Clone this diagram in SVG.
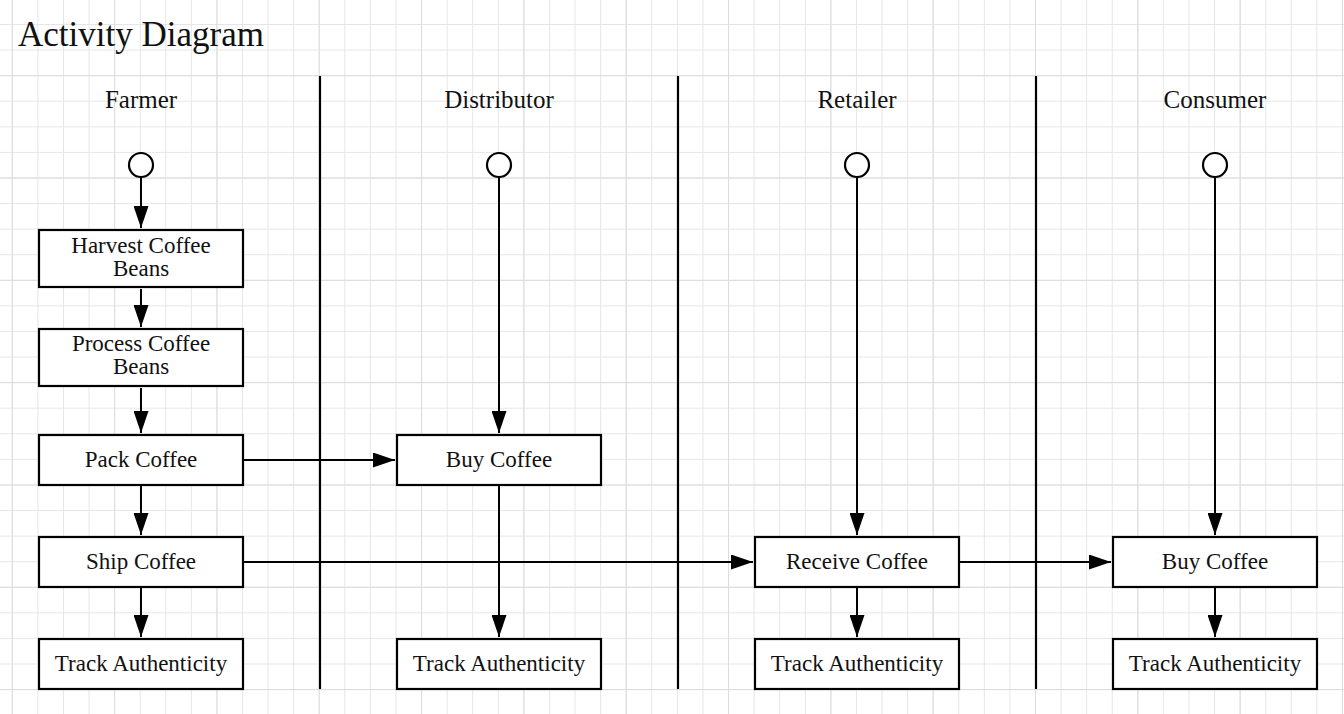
<svg xmlns="http://www.w3.org/2000/svg" width="1344" height="714" viewBox="0 0 1344 714">
<style>
.lbl{font-family:"Liberation Serif","Times New Roman",serif;font-size:23px;fill:#111;text-anchor:middle}
.hdr{font-family:"Liberation Serif","Times New Roman",serif;font-size:25px;fill:#111;text-anchor:middle}
.title{font-family:"Liberation Serif","Times New Roman",serif;font-size:35px;fill:#111}
.box{fill:#fff;stroke:#000;stroke-width:2.2}
.start{fill:#fff;stroke:#000;stroke-width:2.2}
.lane{stroke:#000;stroke-width:2.2}
.conn{stroke:#000;stroke-width:2;fill:none;marker-end:url(#arrow)}
</style>
<defs>
<pattern id="grid" patternUnits="userSpaceOnUse" x="11.8" y="24" width="25.58" height="25.58">
<path d="M0.5 0 V25.58 M0 0.5 H25.58" stroke="#e6e6e6" stroke-width="1" fill="none"/>
</pattern>
<pattern id="gridMajor" patternUnits="userSpaceOnUse" x="11.8" y="75.2" width="102.32" height="102.32">
<path d="M0.5 0 V102.32 M0 0.5 H102.32" stroke="#dcdcdc" stroke-width="1" fill="none"/>
</pattern>
<marker id="arrow" markerUnits="userSpaceOnUse" markerWidth="22" markerHeight="15" refX="22" refY="7.5" orient="auto">
<path d="M0 0 L22 7.5 L0 15 Z" fill="#000"/>
</marker>
</defs>
<rect width="1344" height="714" fill="#fff"/>
<rect width="1344" height="714" fill="url(#grid)"/>
<rect width="1344" height="714" fill="url(#gridMajor)"/>
<text class="title" x="18" y="46">Activity Diagram</text>
<g id="lanes">
<line class="lane" x1="320" y1="76" x2="320" y2="689"/>
<line class="lane" x1="678" y1="76" x2="678" y2="689"/>
<line class="lane" x1="1036" y1="76" x2="1036" y2="689"/>
<text class="hdr" x="141" y="108">Farmer</text>
<text class="hdr" x="499" y="108">Distributor</text>
<text class="hdr" x="857" y="108">Retailer</text>
<text class="hdr" x="1215" y="108">Consumer</text>
</g>
<g id="connectors">
<line class="conn" x1="141" y1="177" x2="141" y2="228"/>
<line class="conn" x1="141" y1="289" x2="141" y2="327"/>
<line class="conn" x1="141" y1="388" x2="141" y2="433"/>
<line class="conn" x1="141" y1="486" x2="141" y2="535"/>
<line class="conn" x1="141" y1="588" x2="141" y2="637"/>
<line class="conn" x1="244" y1="460" x2="395" y2="460"/>
<line class="conn" x1="499" y1="177" x2="499" y2="433"/>
<line class="conn" x1="499" y1="486" x2="499" y2="637"/>
<line class="conn" x1="244" y1="562" x2="753" y2="562"/>
<line class="conn" x1="857" y1="177" x2="857" y2="535"/>
<line class="conn" x1="857" y1="588" x2="857" y2="637"/>
<line class="conn" x1="960" y1="562" x2="1111" y2="562"/>
<line class="conn" x1="1215" y1="177" x2="1215" y2="535"/>
<line class="conn" x1="1215" y1="588" x2="1215" y2="637"/>
</g>
<g id="start-farmer"><circle class="start" cx="141" cy="165" r="12"/></g>
<g id="start-distributor"><circle class="start" cx="499" cy="165" r="12"/></g>
<g id="start-retailer"><circle class="start" cx="857" cy="165" r="12"/></g>
<g id="start-consumer"><circle class="start" cx="1215" cy="165" r="12"/></g>
<g id="harvest"><rect class="box" x="39" y="230" width="204" height="57"/><text class="lbl" x="141" y="252.5">Harvest Coffee</text><text class="lbl" x="141" y="275.5">Beans</text></g>
<g id="process"><rect class="box" x="39" y="329" width="204" height="57"/><text class="lbl" x="141" y="350.5">Process Coffee</text><text class="lbl" x="141" y="373.5">Beans</text></g>
<g id="pack"><rect class="box" x="39" y="435" width="204" height="50"/><text class="lbl" x="141" y="466.5">Pack Coffee</text></g>
<g id="ship"><rect class="box" x="39" y="537" width="204" height="50"/><text class="lbl" x="141" y="568.5">Ship Coffee</text></g>
<g id="track-farmer"><rect class="box" x="39" y="639" width="204" height="50"/><text class="lbl" x="141" y="670.5">Track Authenticity</text></g>
<g id="buy-distributor"><rect class="box" x="397" y="435" width="204" height="50"/><text class="lbl" x="499" y="466.5">Buy Coffee</text></g>
<g id="track-distributor"><rect class="box" x="397" y="639" width="204" height="50"/><text class="lbl" x="499" y="670.5">Track Authenticity</text></g>
<g id="receive"><rect class="box" x="755" y="537" width="204" height="50"/><text class="lbl" x="857" y="568.5">Receive Coffee</text></g>
<g id="track-retailer"><rect class="box" x="755" y="639" width="204" height="50"/><text class="lbl" x="857" y="670.5">Track Authenticity</text></g>
<g id="buy-consumer"><rect class="box" x="1113" y="537" width="204" height="50"/><text class="lbl" x="1215" y="568.5">Buy Coffee</text></g>
<g id="track-consumer"><rect class="box" x="1113" y="639" width="204" height="50"/><text class="lbl" x="1215" y="670.5">Track Authenticity</text></g>
</svg>
